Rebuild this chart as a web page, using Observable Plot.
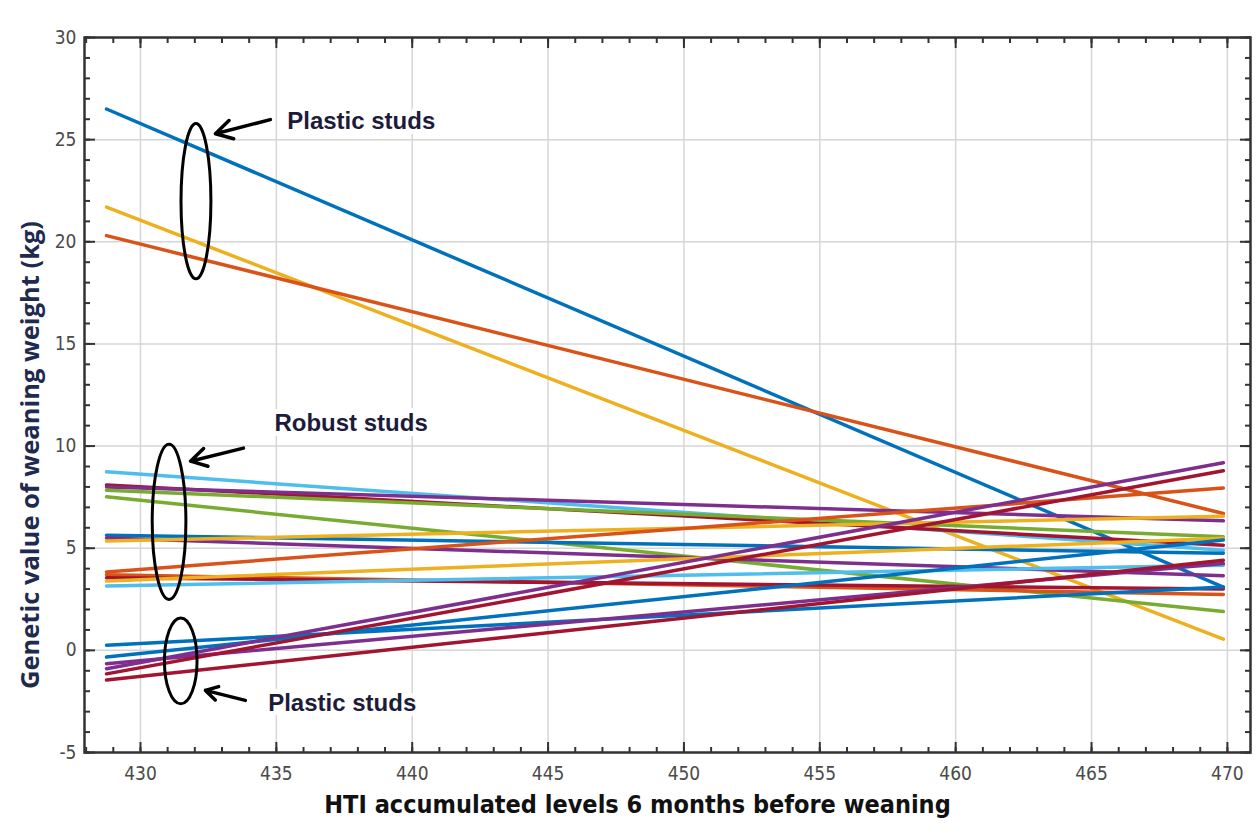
<!DOCTYPE html>
<html>
<head>
<meta charset="utf-8">
<script src="https://cdn.jsdelivr.net/npm/d3@7"></script>
<script src="https://cdn.jsdelivr.net/npm/@observablehq/plot@0.6"></script>
<style>
  html, body { margin: 0; padding: 0; background: #ffffff; }
  #chart { width: 1258px; height: 831px; }
</style>
</head>
<body>
<div id="chart"></div>
<script>
// ---------- data ----------
const xRange = [428.75, 469.85];          // HTI span of each fitted line
const seriesColor = ["blue","yellow","orange","lightblue","red","purple","green","green","blue","purple","yellow","orange","orange","red","yellow","lightblue","blue","blue","purple","purple","red","red"];
const startY = [26.5, 21.7, 20.3, 8.74, 8.1, 8.0, 7.84, 7.52, 5.64, 5.5, 5.35, 3.84, 3.7, 3.55, 3.4, 3.15, 0.25, -0.33, -0.9, -0.65, -1.15, -1.45];
const endY   = [3.1, 0.55, 6.7, 4.9, 5.15, 6.34, 5.56, 1.9, 4.75, 3.65, 6.57, 7.95, 2.74, 3.0, 5.49, 4.17, 3.1, 5.4, 9.18, 4.25, 8.79, 4.41];

const xTicks = [430, 435, 440, 445, 450, 455, 460, 465, 470];
const yTicks = [-5, 0, 5, 10, 15, 20, 25, 30];
const xMinor = d3.range(428, 471);
const yMinor = d3.range(-5, 31);

const noteText = ["Plastic studs", "Robust studs", "Plastic studs"];
const noteX = [435.4, 434.93, 434.7];
const noteY = [25.88, 11.13, -2.6];
const arrowX1 = [434.78, 433.79, 433.86];
const arrowY1 = [25.98, 9.9, -2.45];
const arrowX2 = [432.76, 431.84, 432.39];
const arrowY2 = [25.29, 9.26, -1.96];
const ellCx = [432.06, 431.07, 431.5];
const ellCy = [21.96, 6.27, -0.54];
const ellRx = [0.55, 0.62, 0.6];
const ellRy = [3.8, 3.8, 2.1];

const xLabel = "HTI accumulated levels 6 months before weaning";
const yLabel = "Genetic value of weaning weight (kg)";

// ---------- build ----------
const palette = {
  blue: "#0072BD", orange: "#D95319", yellow: "#EDB120", purple: "#7E2F8E",
  green: "#77AC30", lightblue: "#4DBEEE", red: "#A2142F"
};
const rows = [];
startY.forEach((s, i) => {
  rows.push({id: i, x: xRange[0], y: s, c: palette[seriesColor[i]]});
  rows.push({id: i, x: xRange[1], y: endY[i], c: palette[seriesColor[i]]});
});
const notes = noteText.map((t, i) => ({t, x: noteX[i], y: noteY[i]}));
const arrows = arrowX1.map((_, i) => ({x1: arrowX1[i], y1: arrowY1[i], x2: arrowX2[i], y2: arrowY2[i]}));

const tickFont = "'Liberation Sans Narrow', 'DejaVu Sans Condensed', 'Liberation Sans', sans-serif";
const frameColor = "#333";

const plot = Plot.plot({
  width: 1258,
  height: 831,
  marginLeft: 84,
  marginRight: 8,
  marginTop: 37,
  marginBottom: 79,
  style: {background: "#ffffff", overflow: "visible"},
  x: {domain: [427.94, 470.85], label: null},
  y: {domain: [-5, 30], label: null},
  color: {type: "identity"},
  marks: [
    Plot.gridX(xTicks, {stroke: "#d6d6d6", strokeOpacity: 1, strokeWidth: 1.5}),
    Plot.gridY(yTicks, {stroke: "#d6d6d6", strokeOpacity: 1, strokeWidth: 1.5}),
    Plot.line(rows, {x: "x", y: "y", z: "id", stroke: "c", strokeWidth: 3.5}),
    // axis labels (numbers)
    Plot.axisX(xTicks, {anchor: "bottom", tickSize: 0, tickPadding: 14, label: null, tickFormat: d => String(d),
      fontSize: 19, fontFamily: tickFont, fill: "#4a4a4a"}),
    Plot.axisY(yTicks, {anchor: "left", tickSize: 0, tickPadding: 8, label: null, tickFormat: d => String(d),
      fontSize: 19, fontFamily: tickFont, fill: "#4a4a4a"}),
    // inward ticks on all four sides
    Plot.axisX(xMinor, {anchor: "bottom", tickSize: -5, tickFormat: () => "", label: null, stroke: frameColor, strokeWidth: 2}),
    Plot.axisX(xTicks, {anchor: "bottom", tickSize: -10, tickFormat: () => "", label: null, stroke: frameColor, strokeWidth: 2}),
    Plot.axisX(xMinor, {anchor: "top", tickSize: -5, tickFormat: () => "", label: null, stroke: frameColor, strokeWidth: 2}),
    Plot.axisX(xTicks, {anchor: "top", tickSize: -10, tickFormat: () => "", label: null, stroke: frameColor, strokeWidth: 2}),
    Plot.axisY(yMinor, {anchor: "left", tickSize: -6, tickFormat: () => "", label: null, stroke: frameColor, strokeWidth: 2}),
    Plot.axisY(yTicks, {anchor: "left", tickSize: -11, tickFormat: () => "", label: null, stroke: frameColor, strokeWidth: 2}),
    Plot.axisY(yMinor, {anchor: "right", tickSize: -6, tickFormat: () => "", label: null, stroke: frameColor, strokeWidth: 2}),
    Plot.axisY(yTicks, {anchor: "right", tickSize: -11, tickFormat: () => "", label: null, stroke: frameColor, strokeWidth: 2}),
    Plot.frame({stroke: frameColor, strokeWidth: 2.5}),
    // annotations
    Plot.arrow(arrows, {x1: "x1", y1: "y1", x2: "x2", y2: "y2", stroke: "#000", strokeWidth: 3.5, headLength: 14, bend: 0}),
    Plot.text(notes, {x: "x", y: "y", text: "t", textAnchor: "start", fontSize: 24, fontWeight: "bold",
      fontFamily: "'Liberation Sans', Arial, sans-serif", fill: "#1c1c3a", stroke: "white", strokeWidth: 10}),
    // axis titles
    Plot.text([xLabel], {frameAnchor: "bottom", textAnchor: "middle", dy: 60, dx: -30, fontSize: 25, fontWeight: "bold",
      fontFamily: tickFont, fill: "#111"}),
    Plot.text([yLabel], {frameAnchor: "left", textAnchor: "middle", rotate: -90, dx: -54, dy: 60, fontSize: 25.5, fontWeight: "bold",
      fontFamily: "'Open Sans', 'Liberation Sans', sans-serif", fill: "#1f2a4f"})
  ]
});

// ellipses drawn in data coordinates through the plot's scales
const sx = plot.scale("x"), sy = plot.scale("y");
const svg = d3.select(plot);
ellCx.forEach((cx, i) => {
  const px = sx.apply(cx), py = sy.apply(ellCy[i]);
  const rx = Math.abs(sx.apply(cx + ellRx[i]) - px);
  const ry = Math.abs(sy.apply(ellCy[i] + ellRy[i]) - py);
  svg.append("ellipse").attr("cx", px).attr("cy", py).attr("rx", rx).attr("ry", ry)
    .attr("fill", "none").attr("stroke", "#000").attr("stroke-width", 3);
});

document.getElementById("chart").appendChild(plot);
</script>
</body>
</html>
